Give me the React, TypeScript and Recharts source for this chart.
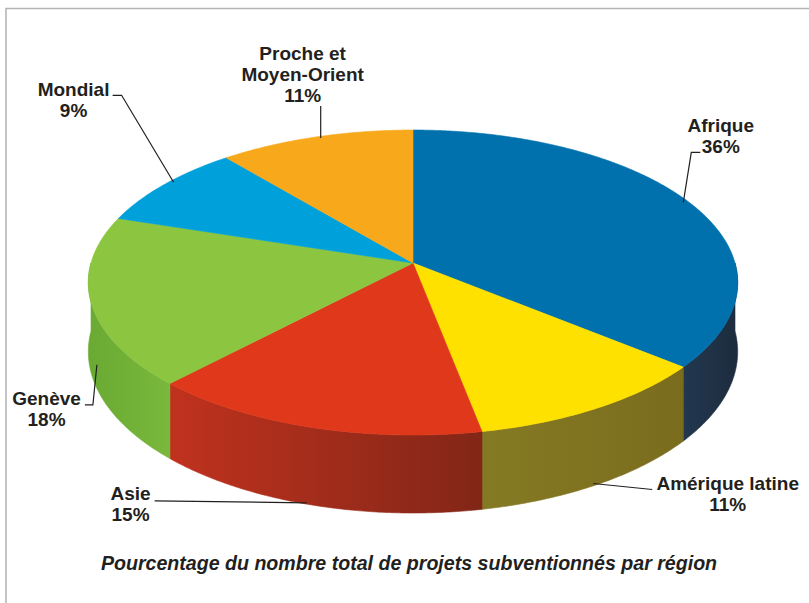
import React from 'react';
import { PieChart, Pie } from 'recharts';

// ---- data ----
const regions = ['Afrique', 'Amérique latine', 'Asie', 'Genève', 'Mondial', 'Proche et Moyen-Orient'];
const labelTexts = [['Afrique'], ['Amérique latine'], ['Asie'], ['Genève'], ['Mondial'], ['Proche et', 'Moyen-Orient']];
const shares = [36, 11, 15, 18, 9, 11];
const chartTitle = 'Pourcentage du nombre total de projets subventionnés par région';

// ---- style ----
const topColors = ['#0071AD', '#FFE100', '#E0381A', '#8CC540', '#00A1DA', '#F7A91B'];
const wallColors: [string, string][] = [
  ['#22384f', '#1d2c3e'],
  ['#857a24', '#7a6c1d'],
  ['#c0321e', '#822617'],
  ['#6aaa33', '#79b83c'],
  ['#008ac0', '#007aae'],
  ['#e09a18', '#d08c14'],
];

// label layout relative to the anchor on the rim (leader points, text center x, first baseline)
const labelLayout = [
  { lead: [[-6, 0], [2, -50], [11, -50]], tx: 31.5, ty: -70.3 },
  { lead: [[-4, -1], [55, 5]], tx: 130.5, ty: 5 },
  { lead: [[-4, -2], [-156, -4]], tx: -180, ty: -5 },
  { lead: [[6, -7], [2, 33], [-6, 33]], tx: -44.3, ty: 33.7 },
  { lead: [[9, -2], [-43, -89], [-52, -89]], tx: -91, ty: -88 },
  { lead: [[5, 1], [5, -31]], tx: -13, ty: -77 },
];

const data = regions.map((name, i) => ({
  name,
  value: shares[i],
  fill: topColors[i],
}));

const PERSP = 0.128;
const BY_RATIO = 150 / 322;
const DEPTH_RATIO = 68 / 322;
const FONT = '"Liberation Sans", Arial, Helvetica, sans-serif';
const TEXT_COLOR = '#231f20';

function rim(cx: number, cy: number, r: number, deg: number) {
  const t = (deg * Math.PI) / 180;
  const s = Math.sin(t);
  const c = Math.cos(t);
  const den = 1 + PERSP * s;
  return { x: cx + (r * c) / den, y: cy - (r * BY_RATIO * s) / den, depth: (r * DEPTH_RATIO) / den };
}

function Slice3D(props: any) {
  const { cx, cy, outerRadius, startAngle, endAngle } = props;
  const payload = props.payload || props;
  const idx = regions.indexOf(payload.name);
  const fill = topColors[idx] || props.fill;
  const a1 = Math.min(startAngle, endAngle);
  const a2 = Math.max(startAngle, endAngle);
  const n = Math.max(2, Math.ceil((a2 - a1) / 0.5));
  let top = `M${cx},${cy}`;
  for (let i = 0; i <= n; i++) {
    const p = rim(cx, cy, outerRadius, startAngle + ((endAngle - startAngle) * i) / n);
    top += ` L${p.x.toFixed(2)},${p.y.toFixed(2)}`;
  }
  top += ' Z';

  let wall: React.ReactNode = null;
  const lo = Math.max(a1, -180);
  const hi = Math.min(a2, 0);
  if (hi > lo) {
    const m = Math.max(2, Math.ceil((hi - lo) / 0.5));
    const upper: { x: number; y: number; depth: number }[] = [];
    for (let i = 0; i <= m; i++) upper.push(rim(cx, cy, outerRadius, hi - ((hi - lo) * i) / m));
    let d = `M${upper[0].x.toFixed(2)},${upper[0].y.toFixed(2)}`;
    upper.forEach((p) => (d += ` L${p.x.toFixed(2)},${p.y.toFixed(2)}`));
    for (let i = upper.length - 1; i >= 0; i--) {
      const p = upper[i];
      d += ` L${p.x.toFixed(2)},${(p.y + p.depth).toFixed(2)}`;
    }
    d += ' Z';
    const xs = upper.map((p) => p.x);
    const gid = `wall-grad-${idx}`;
    wall = (
      <g>
        <defs>
          <linearGradient id={gid} gradientUnits="userSpaceOnUse" x1={Math.min(...xs)} y1={0} x2={Math.max(...xs)} y2={0}>
            <stop offset="0%" stopColor={wallColors[idx][0]} />
            <stop offset="100%" stopColor={wallColors[idx][1]} />
          </linearGradient>
        </defs>
        <path d={d} fill={`url(#${gid})`} stroke={`url(#${gid})`} strokeWidth={0.6} />
      </g>
    );
  }
  return (
    <g>
      {wall}
      <path d={top} fill={fill} stroke={fill} strokeWidth={0.6} />
    </g>
  );
}

function renderLabel(props: any) {
  const { cx, cy, outerRadius, midAngle, index } = props;
  const p = rim(cx, cy, outerRadius, midAngle);
  const front = midAngle < 0 && midAngle > -180;
  const ax = p.x;
  const ay = front ? p.y + p.depth : p.y;
  const lay = labelLayout[index];
  const lines = labelTexts[index];
  const pts = lay.lead.map(([dx, dy]) => `${(ax + dx).toFixed(1)},${(ay + dy).toFixed(1)}`).join(' ');
  return (
    <g key={`lbl-${index}`}>
      <polyline points={pts} fill="none" stroke={TEXT_COLOR} strokeWidth={1.2} />
      <text
        x={ax + lay.tx}
        y={ay + lay.ty}
        textAnchor="middle"
        fontFamily={FONT}
        fontWeight="bold"
        fontSize={19}
        fill={TEXT_COLOR}
      >
        {[...lines, `${shares[index]}%`].map((t, j) => (
          <tspan key={j} x={ax + lay.tx} dy={j === 0 ? 0 : 21}>
            {t}
          </tspan>
        ))}
      </text>
    </g>
  );
}

export default function App() {
  return (
    <div style={{ position: 'absolute', left: 0, top: 0, width: 809, height: 603, background: '#fff' }}>
      <svg width={809} height={603} style={{ position: 'absolute', left: 0, top: 0 }}>
        <path d="M6,610 V8.5 H815" fill="none" stroke="#b3b3b3" strokeWidth={1.5} />
        <text
          x={409}
          y={570}
          textAnchor="middle"
          fontFamily={FONT}
          fontWeight="bold"
          fontStyle="italic"
          fontSize={19.6}
          fill={TEXT_COLOR}
        >
          {chartTitle}
        </text>
      </svg>
      <div style={{ position: 'absolute', left: 0, top: 0 }}>
        <PieChart width={809} height={603} margin={{ top: 0, right: 0, bottom: 0, left: 0 }}>
          <Pie
            data={data}
            dataKey="value"
            nameKey="name"
            cx={413}
            cy={263}
            outerRadius={322}
            startAngle={90}
            endAngle={-270}
            stroke="none"
            isAnimationActive={false}
            shape={Slice3D}
            activeShape={Slice3D}
            inactiveShape={Slice3D}
            label={renderLabel}
            labelLine={false}
          />
        </PieChart>
      </div>
    </div>
  );
}
